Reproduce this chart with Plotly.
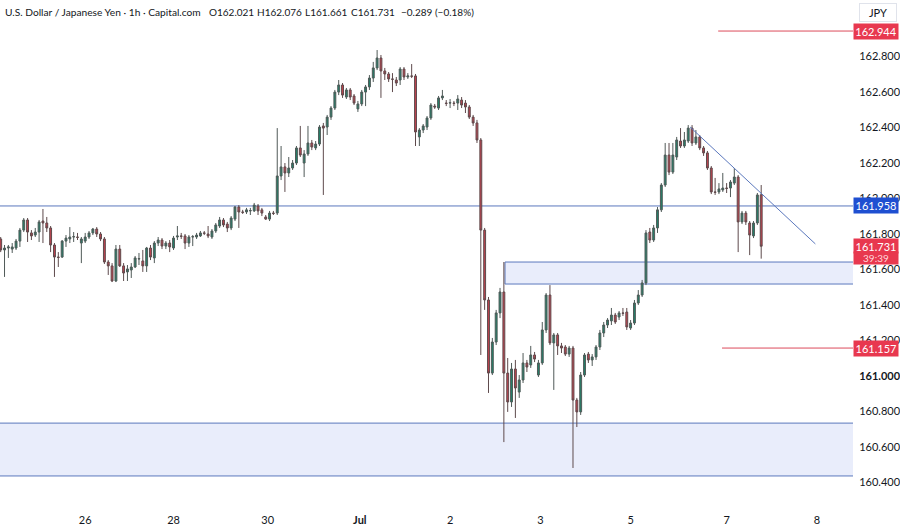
import plotly.graph_objects as go

# ---------------- data (USD/JPY, 1h) ----------------
opens = [
 161.772,161.710,161.721,161.715,161.721,161.760,161.822,161.879,161.806,161.794,
 161.811,161.873,161.862,161.834,161.738,161.670,161.670,161.760,161.772,161.783,
 161.783,161.749,161.760,161.783,161.806,161.828,161.800,161.772,161.642,161.620,
 161.535,161.715,161.620,161.586,161.597,161.614,161.659,161.648,161.620,161.721,
 161.665,161.749,161.766,161.732,161.749,161.721,161.783,161.789,161.789,161.749,
 161.783,161.783,161.789,161.806,161.800,161.783,161.817,161.845,161.879,161.856,
 161.834,161.884,161.952,161.924,161.924,161.930,161.930,161.958,161.936,161.896,
 161.884,161.918,161.918,162.127,162.178,162.144,162.172,162.200,162.285,162.200,
 162.251,162.313,162.285,162.307,162.409,162.403,162.459,162.510,162.600,162.640,
 162.572,162.612,162.578,162.505,162.533,162.600,162.629,162.679,162.736,162.792,
 162.719,162.702,162.674,162.668,162.668,162.730,162.685,162.691,162.691,162.347,
 162.386,162.403,162.454,162.521,162.510,162.567,162.538,162.538,162.538,162.538,
 162.555,162.538,162.516,162.459,162.426,162.330,161.822,161.428,161.016,161.191,
 161.355,161.473,161.016,160.853,161.039,160.909,160.977,161.073,161.062,161.118,
 161.005,161.073,161.259,161.456,161.186,161.231,161.169,161.163,161.123,161.157,
 160.864,160.797,161.005,161.123,161.090,161.107,161.163,161.242,161.287,161.310,
 161.343,161.332,161.355,161.360,161.270,161.298,161.411,161.456,161.524,161.811,
 161.766,161.834,161.936,162.076,162.245,162.149,162.234,162.324,162.296,162.324,
 162.397,162.313,162.347,162.285,162.257,162.172,162.037,162.037,162.048,162.059,
 162.059,162.087,162.121,161.868,161.918,161.862,161.789,161.862,162.021]
highs = [
 161.783,161.738,161.738,161.749,161.772,161.834,161.890,161.890,161.822,161.834,
 161.879,161.941,161.896,161.845,161.749,161.698,161.766,161.794,161.839,161.811,
 161.806,161.783,161.806,161.817,161.834,161.839,161.811,161.783,161.653,161.636,
 161.738,161.738,161.636,161.625,161.636,161.676,161.693,161.710,161.727,161.738,
 161.760,161.783,161.777,161.760,161.766,161.789,161.845,161.806,161.800,161.794,
 161.794,161.806,161.817,161.817,161.845,161.828,161.862,161.896,161.890,161.868,
 161.901,161.958,161.963,161.936,161.947,161.947,161.975,161.969,161.947,161.907,
 161.930,161.930,162.397,162.296,162.200,162.234,162.217,162.296,162.409,162.273,
 162.409,162.330,162.324,162.414,162.426,162.471,162.521,162.612,162.668,162.651,
 162.623,162.623,162.589,162.550,162.612,162.640,162.696,162.770,162.837,162.809,
 162.736,162.713,162.707,162.685,162.741,162.741,162.707,162.758,162.702,162.397,
 162.420,162.465,162.538,162.533,162.578,162.612,162.555,162.561,162.550,162.583,
 162.572,162.555,162.527,162.471,162.443,162.341,161.834,161.445,161.214,161.372,
 161.496,161.642,161.101,161.073,161.090,161.005,161.129,161.090,161.169,161.135,
 161.090,161.304,161.467,161.512,161.242,161.242,161.186,161.174,161.169,161.169,
 160.876,161.022,161.129,161.135,161.123,161.174,161.259,161.304,161.326,161.383,
 161.355,161.366,161.383,161.383,161.315,161.428,161.484,161.541,161.822,161.834,
 161.851,161.952,162.087,162.313,162.313,162.313,162.347,162.397,162.375,162.414,
 162.414,162.386,162.358,162.296,162.268,162.183,162.116,162.087,162.144,162.087,
 162.104,162.172,162.132,161.930,161.930,161.873,161.873,162.031,162.076]
lows = [
 161.698,161.558,161.665,161.693,161.710,161.727,161.811,161.755,161.766,161.783,
 161.755,161.749,161.811,161.698,161.558,161.614,161.665,161.727,161.749,161.755,
 161.766,161.636,161.749,161.772,161.794,161.783,161.760,161.631,161.569,161.529,
 161.529,161.614,161.535,161.535,161.552,161.608,161.625,161.586,161.586,161.653,
 161.636,161.732,161.715,161.715,161.698,161.710,161.766,161.772,161.715,161.727,
 161.732,161.772,161.783,161.794,161.777,161.772,161.806,161.834,161.839,161.811,
 161.822,161.873,161.834,161.913,161.913,161.907,161.924,161.907,161.901,161.879,
 161.873,161.907,161.907,162.104,162.037,162.121,162.161,162.189,162.234,162.121,
 162.240,162.273,162.273,162.296,162.020,162.358,162.443,162.499,162.583,162.567,
 162.561,162.555,162.527,162.488,162.521,162.521,162.612,162.657,162.724,162.567,
 162.668,162.657,162.600,162.634,162.640,162.668,162.674,162.679,162.296,162.296,
 162.369,162.386,162.443,162.505,162.499,162.555,162.521,162.510,162.521,162.499,
 162.510,162.482,162.448,162.409,162.313,161.118,161.372,160.904,161.005,161.174,
 161.326,160.627,160.797,160.825,160.763,160.876,160.960,161.022,161.045,161.078,
 160.994,161.062,161.242,161.174,160.921,161.118,161.129,161.112,161.107,160.481,
 160.712,160.780,160.994,161.073,161.056,161.090,161.146,161.219,161.270,161.287,
 161.293,161.315,161.338,161.259,161.259,161.287,161.400,161.445,161.512,161.749,
 161.755,161.806,161.924,162.065,162.132,162.138,162.217,162.285,162.285,162.313,
 162.296,162.302,162.273,162.240,162.161,162.025,162.020,162.025,162.037,162.031,
 162.008,162.076,161.698,161.856,161.851,161.681,161.777,161.851,161.661]
closes = [
 161.710,161.721,161.727,161.727,161.760,161.822,161.879,161.811,161.789,161.811,
 161.868,161.862,161.834,161.738,161.670,161.668,161.760,161.777,161.783,161.785,
 161.781,161.772,161.783,161.806,161.828,161.800,161.772,161.642,161.620,161.535,
 161.715,161.620,161.580,161.603,161.614,161.665,161.661,161.620,161.721,161.670,
 161.749,161.766,161.732,161.749,161.727,161.777,161.789,161.787,161.749,161.783,
 161.785,161.794,161.806,161.804,161.789,161.817,161.851,161.879,161.851,161.834,
 161.890,161.952,161.924,161.922,161.936,161.932,161.963,161.930,161.918,161.884,
 161.918,161.916,162.127,162.178,162.144,162.172,162.200,162.285,162.245,162.251,
 162.313,162.290,162.307,162.403,162.397,162.459,162.510,162.600,162.640,162.583,
 162.612,162.572,162.538,162.533,162.600,162.629,162.679,162.736,162.792,162.719,
 162.702,162.674,162.672,162.651,162.730,162.685,162.691,162.689,162.375,162.386,
 162.409,162.454,162.527,162.516,162.567,162.578,162.536,162.540,162.536,162.561,
 162.527,162.516,162.459,162.426,162.330,161.822,161.428,161.016,161.191,161.355,
 161.473,161.016,160.853,161.039,160.932,160.977,161.073,161.050,161.118,161.095,
 161.073,161.259,161.456,161.186,161.231,161.169,161.157,161.123,161.157,160.864,
 160.797,161.005,161.118,161.090,161.107,161.163,161.242,161.287,161.315,161.343,
 161.304,161.355,161.353,161.276,161.298,161.411,161.456,161.524,161.806,161.766,
 161.834,161.936,162.076,162.245,162.149,162.245,162.330,162.296,162.330,162.397,
 162.313,162.347,162.285,162.257,162.172,162.037,162.035,162.054,162.059,162.057,
 162.093,162.121,161.868,161.918,161.868,161.794,161.862,162.020,161.731]

bar_index = list(range(len(closes)))

# time axis labels (bar index where each label sits)
date_tick_pos = [22, 45, 69.5, 93.5, 117, 140.5, 164, 189, 212.5]
date_tick_text = ["26", "28", "30", "<b>Jul</b>", "2", "3", "5", "7", "8"]

price_ticks = [160.4, 160.6, 160.8, 161.0, 161.2, 161.4, 161.6, 161.8, 162.0, 162.2, 162.4, 162.6, 162.8]

# drawn levels / zones
resistance_level = 161.958
red_levels = [(162.944, 186.8), (161.157, 187.8)]     # (price, start bar)
upper_zone = (131.3, 161.518, 161.642)                 # (start bar, low, high)
lower_zone = (160.436, 160.734)                        # (low, high)
trend_pts = [(179.5, 162.403), (212.1, 161.744)]       # (bar, price)

last_price = 161.731
countdown = "39:39"
title_name = "U.S. Dollar / Japanese Yen · 1h · Capital.com"
title_fields = ["O162.021", "H162.076", "L161.661", "C161.731", "−0.289 (−0.18%)"]

X_MIN, X_MAX = -0.18, 221.9
Y_MIN, Y_MAX = 160.3005, 163.119

FONT = "Lato, 'Open Sans', sans-serif"
TXT = "#131722"
BLUE = "#5b78bd"
RED = "#dc4b5b"
TAG_RED = "#e8384f"

fig = go.Figure()
fig.add_trace(go.Candlestick(
    x=bar_index, open=opens, high=highs, low=lows, close=closes,
    increasing=dict(fillcolor="#238069", line=dict(color="#505a58", width=1)),
    decreasing=dict(fillcolor="#c2434f", line=dict(color="#5e4a4c", width=1)),
    whiskerwidth=0, showlegend=False, hoverinfo="skip"))

shapes = []
shapes.append(dict(type="rect", xref="x", yref="y", x0=X_MIN - 5, x1=X_MAX + 5,
                   y0=lower_zone[0], y1=lower_zone[1], fillcolor="#e9edfb",
                   line=dict(color=BLUE, width=1), layer="below"))
shapes.append(dict(type="rect", xref="x", yref="y", x0=upper_zone[0], x1=X_MAX + 5,
                   y0=upper_zone[1], y1=upper_zone[2], fillcolor="#e9edfb",
                   line=dict(color=BLUE, width=1), layer="below"))
shapes.append(dict(type="line", xref="paper", yref="y", x0=0, x1=1,
                   y0=resistance_level, y1=resistance_level,
                   line=dict(color=BLUE, width=1), layer="below"))
for p, start in red_levels:
    shapes.append(dict(type="line", xref="x", yref="y", x0=start, x1=X_MAX,
                       y0=p, y1=p, line=dict(color=RED, width=1), layer="below"))
shapes.append(dict(type="line", xref="x", yref="y",
                   x0=trend_pts[0][0], y0=trend_pts[0][1],
                   x1=trend_pts[1][0], y1=trend_pts[1][1],
                   line=dict(color=BLUE, width=1)))

annotations = []
# legend/title line, each field placed like the TradingView header
title_x = [3, 207, 255, 303, 349, 399]
title_sizes = [10.2, 10, 10, 10, 10, 10]
for tx, tt, fs in zip(title_x, [title_name] + title_fields, title_sizes):
    annotations.append(dict(xref="paper", yref="paper", x=0, y=1, xanchor="left", yanchor="top",
                            xshift=tx, yshift=-4, text=tt, showarrow=False,
                            font=dict(family=FONT, size=fs, color=TXT)))
annotations.append(dict(xref="paper", yref="paper", x=1, y=1, xanchor="left", yanchor="top",
                        xshift=6, yshift=-3, text="JPY", showarrow=False, width=34, height=15,
                        bordercolor="#e0e3eb", borderwidth=1, borderpad=1, bgcolor="white",
                        font=dict(family=FONT, size=11, color=TXT)))

def tag(price, text, color, yshift=0, fcolor="white", h=None, fs=11):
    d = dict(xref="paper", yref="y", x=1, y=price, xanchor="left", yanchor="middle",
             xshift=0, yshift=yshift, text=text, showarrow=False, bgcolor=color,
             width=42, borderpad=1, font=dict(family=FONT, size=fs, color=fcolor),
             align="center")
    if h:
        d["height"] = h
    return d

annotations.append(tag(red_levels[0][0], "162.944", TAG_RED))
annotations.append(tag(resistance_level, "161.958", "#1f4fd1"))
annotations.append(tag(last_price, countdown, TAG_RED, yshift=-11.5, fcolor="#ffd6da", h=10, fs=10))
annotations.append(tag(last_price, "161.731", TAG_RED, h=12))
annotations.append(tag(red_levels[1][0], "161.157", TAG_RED))

fig.update_layout(
    width=900, height=527,
    margin=dict(l=0, r=47, t=0, b=27),
    paper_bgcolor="white", plot_bgcolor="white",
    shapes=shapes, annotations=annotations,
    xaxis=dict(range=[X_MIN, X_MAX], rangeslider=dict(visible=False),
               showgrid=False, zeroline=False, showline=False,
               tickmode="array", tickvals=date_tick_pos, ticktext=date_tick_text,
               ticks="outside", ticklen=10, tickcolor="rgba(0,0,0,0)",
               tickfont=dict(family=FONT, size=11, color=TXT)),
    yaxis=dict(side="right", range=[Y_MIN, Y_MAX], showgrid=False, zeroline=False,
               showline=False, tickmode="array", tickvals=price_ticks,
               ticktext=[("<b>%.3f</b>" if abs(v - 161.0) < 1e-9 else "%.3f") % v for v in price_ticks],
               ticks="outside", ticklen=3, tickcolor="rgba(0,0,0,0)",
               tickfont=dict(family=FONT, size=11, color=TXT)),
    hovermode=False,
)

fig.write_html("out.html")
